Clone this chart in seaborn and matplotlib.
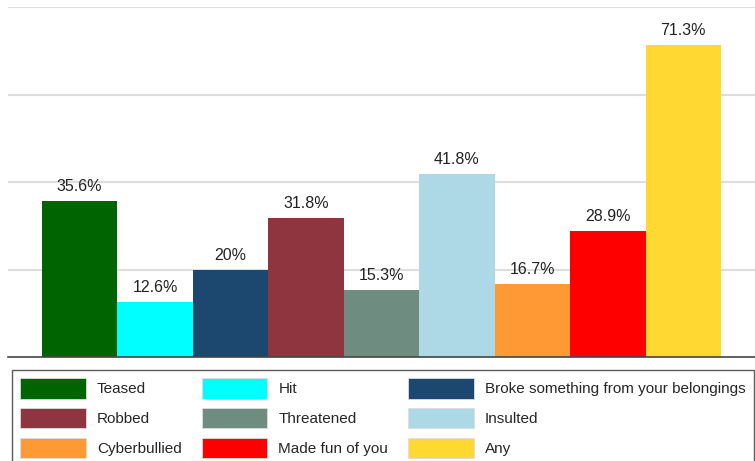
import matplotlib
matplotlib.use("Agg")
import matplotlib.pyplot as plt
import seaborn as sns
import pandas as pd
from matplotlib.patches import Patch

categories = ["Teased", "Hit", "Broke something from your belongings", "Robbed",
              "Threatened", "Insulted", "Cyberbullied", "Made fun of you", "Any"]
values = [35.6, 12.6, 20.0, 31.8, 15.3, 41.8, 16.7, 28.9, 71.3]
value_labels = ["35.6%", "12.6%", "20%", "31.8%", "15.3%", "41.8%", "16.7%", "28.9%", "71.3%"]
colors = ["#006400", "#00FFFF", "#1C4870", "#8E3540", "#6E8C80",
          "#ADD8E6", "#FF9933", "#FF0000", "#FFD932"]

sns.set_theme(style="white")
plt.rcParams["font.family"] = ["Liberation Sans", "DejaVu Sans"]

df = pd.DataFrame({"cat": categories, "val": values})

fig = plt.figure(figsize=(7.55, 4.61), dpi=100)
ax = fig.add_axes([8/755, 1 - 357/461, 1 - 8/755, (357 - 7)/461])

sns.barplot(data=df, x="cat", y="val", hue="cat", palette=colors, order=categories,
            hue_order=categories, dodge=False, width=1.0, legend=False, ax=ax,
            saturation=1, linewidth=0)

ax.set_xlim(-0.95, 8.95)
ax.set_ylim(0, 80)
ax.set_yticks([20, 40, 60, 80])
ax.yaxis.grid(True, color="#DDDDDD", linewidth=1.5)
ax.set_axisbelow(True)
ax.set_yticklabels([])
ax.set_xticks([])
ax.set_xlabel("")
ax.set_ylabel("")
ax.tick_params(left=False, bottom=False)
for s in ["top", "right", "left"]:
    ax.spines[s].set_visible(False)
ax.spines["bottom"].set_color("#444444")
ax.spines["bottom"].set_linewidth(1.2)

for i, (v, lab) in enumerate(zip(values, value_labels)):
    ax.annotate(lab, (i, v), xytext=(0, 5), textcoords="offset points",
                ha="center", va="bottom", fontsize=11.5, color="#222222")

handles = [Patch(facecolor=c, edgecolor="#dddddd", linewidth=0.6) for c in colors]
order = [0, 3, 6, 1, 4, 7, 2, 5, 8]
leg = fig.legend([handles[k] for k in order], [categories[k] for k in order],
                 ncol=3, loc="upper left", bbox_to_anchor=(12/755, 1 - 370/461),
                 frameon=True, fancybox=False, edgecolor="#333333", fontsize=11.0,
                 handlelength=4.3, handleheight=1.65, handletextpad=0.72,
                 labelspacing=0.62, columnspacing=1.3, borderpad=0.55, borderaxespad=0)
leg.get_frame().set_linewidth(1.0)

fig.savefig("out.png", dpi=100)
